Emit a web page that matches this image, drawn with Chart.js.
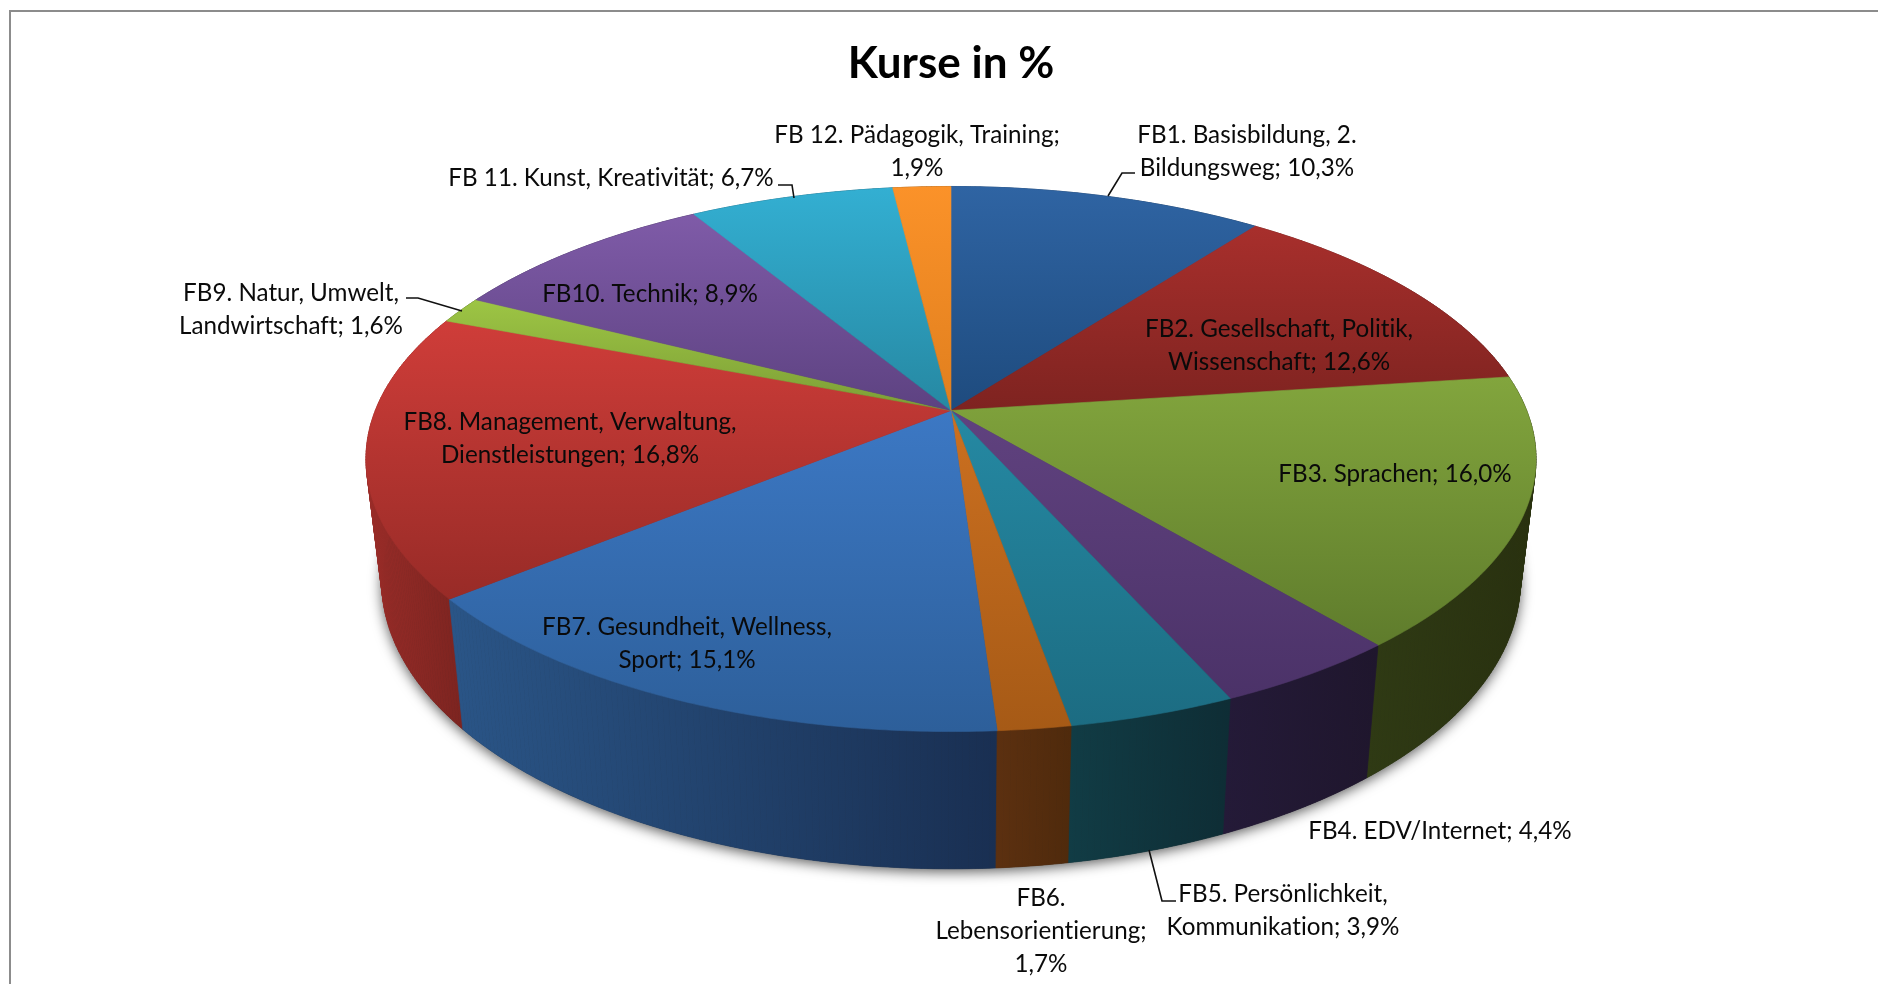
<!DOCTYPE html>
<html lang="de"><head><meta charset="utf-8">
<style>html,body{margin:0;padding:0;background:#fff;overflow:hidden}canvas{display:block}
#frame{position:absolute;left:9px;top:10px;right:-10px;bottom:-10px;border:2px solid #8c8c8c;pointer-events:none}</style>
<script src="https://cdn.jsdelivr.net/npm/chart.js@4"></script>
</head><body><canvas id="c" width="1878" height="984"></canvas><div id="frame"></div>
<script>
// Data
const categories = ["FB1. Basisbildung, 2.|Bildungsweg","FB2. Gesellschaft, Politik,|Wissenschaft","FB3. Sprachen","FB4. EDV/Internet","FB5. Persönlichkeit,|Kommunikation","FB6.|Lebensorientierung","FB7. Gesundheit, Wellness,|Sport","FB8. Management, Verwaltung,|Dienstleistungen","FB9. Natur, Umwelt,|Landwirtschaft","FB10. Technik","FB 11. Kunst, Kreativität","FB 12. Pädagogik, Training"];
const values = [10.3,12.6,16.0,4.4,3.9,1.7,15.1,16.8,1.6,8.9,6.7,1.9];
const valueOnOwnLine = [5,11];
// Colours
const topLight = ["#2f64a3","#a82f2c","#82a53d","#60427f","#2589a3","#cc7020","#3c78c4","#cf3d39","#9dc544","#7f5ba8","#33afd2","#fb9229"];
const topDark  = ["#1e4b7e","#7e2320","#5f7c2c","#4b3268","#1c6c82","#a65a16","#2d5f9a","#982b27","#7c9e36","#5d4281","#2688a2","#e07f1e"];
const wallLight= ["#1c3f68","#6b1e1c","#2f3a14","#241a38","#113c45","#5c3010","#2a5587","#9a2c28","#4c6020","#3c2a58","#176078","#8a5010"];
const wallDark = ["#14304f","#541816","#29310f","#1f162d","#0e2d35","#4f2a0c","#192f52","#7c2420","#3e4f1a","#30224a","#114c60","#744310"];
// Label placement (centre x, first line centre y)
const labelPos = [[1247,135],[1279,329],[1395,474],[1440,831],[1283,894],[1041,898],[687,627],[570,422],[291,293],[650,294],[611,178],[917,135]];
const leaders = {0:[[1135,173],[1122,173],[1108,196]],4:[[1176,901],[1162,901],[1149,850]],8:[[406,298],[418,298],[462,311]],10:[[778,185],[792,185],[794,198]]};
const FONT = '24.2px Lato';
const LINE_H = 33;
// Perspective of the pie disc
const VIEW = {cx:951, k:0.178,
  top:{cy:410.5,a:575.7,b:263.9}, low:{cy:530.5,a:560.2,b:278.1}};
function proj(ang,r){const u=Math.cos(ang),v=Math.sin(ang),w=1-VIEW.k*v;return [VIEW.cx+r.a*u/w,r.cy+r.b*v/w];}
function rimPts(s,e,r){const n=Math.max(4,Math.ceil((e-s)/0.01)),p=[];for(let i=0;i<=n;i++)p.push(proj(s+(e-s)*i/n,r));return p;}
function fmt(v){return v.toFixed(1).replace('.',',')+'%';}
function lines(i){const parts=categories[i].split('|');const val=fmt(values[i]);
  if(valueOnOwnLine.includes(i)){parts[parts.length-1]+=';';parts.push(val);}else parts[parts.length-1]+='; '+val;return parts;}

const pie3d={id:'pie3d',beforeDatasetsDraw(chart){
  const ctx=chart.ctx,arcs=chart.getDatasetMeta(0).data;
  // drop shadow below the body
  ctx.save();ctx.shadowColor='rgba(0,0,0,0.65)';ctx.shadowBlur=13;ctx.shadowOffsetY=3;
  ctx.fillStyle='#222';ctx.beginPath();rimPts(0,Math.PI*2,VIEW.low).forEach((p,i)=>i?ctx.lineTo(p[0],p[1]):ctx.moveTo(p[0],p[1]));ctx.closePath();ctx.fill();ctx.restore();
  // walls, back to front
  const order=arcs.map((a,i)=>i).sort((x,y)=>{const m=i=>Math.sin((arcs[i].startAngle+arcs[i].endAngle)/2);return m(x)-m(y);});
  order.forEach(i=>{const a=arcs[i],t=rimPts(a.startAngle,a.endAngle,VIEW.top),l=rimPts(a.startAngle,a.endAngle,VIEW.low);
    const xs=t.concat(l).map(p=>p[0]);
    const g=ctx.createLinearGradient(Math.min(...xs),0,Math.max(...xs),0);
    g.addColorStop(0,wallLight[i]);g.addColorStop(1,wallDark[i]);
    ctx.fillStyle=g;ctx.strokeStyle=g;ctx.lineWidth=.7;
    for(let j=0;j<t.length-1;j++){ctx.beginPath();ctx.moveTo(t[j][0],t[j][1]);ctx.lineTo(t[j+1][0],t[j+1][1]);ctx.lineTo(l[j+1][0],l[j+1][1]);ctx.lineTo(l[j][0],l[j][1]);ctx.closePath();ctx.fill();ctx.stroke();}
  });
  // top face
  const apex=[VIEW.cx,VIEW.top.cy];
  arcs.forEach((a,i)=>{const t=rimPts(a.startAngle,a.endAngle,VIEW.top);const ys=t.map(p=>p[1]).concat(apex[1]);
    const g=ctx.createLinearGradient(0,Math.min(...ys),0,Math.max(...ys));
    g.addColorStop(0,topLight[i]);g.addColorStop(1,topDark[i]);
    ctx.fillStyle=g;ctx.strokeStyle=g;ctx.lineWidth=.6;ctx.beginPath();ctx.moveTo(apex[0],apex[1]);
    t.forEach(p=>ctx.lineTo(p[0],p[1]));ctx.closePath();ctx.fill();ctx.stroke();});
  // leaders
  ctx.strokeStyle='#111';ctx.lineWidth=1.6;
  Object.values(leaders).forEach(L=>{ctx.beginPath();L.forEach((p,j)=>j?ctx.lineTo(p[0],p[1]):ctx.moveTo(p[0],p[1]));ctx.stroke();});
  // labels
  ctx.fillStyle='#0a0a0a';ctx.font=FONT;ctx.textAlign='center';ctx.textBaseline='middle';ctx.letterSpacing='0.01px';
  values.forEach((v,i)=>lines(i).forEach((s,j)=>ctx.fillText(s,labelPos[i][0],labelPos[i][1]+j*LINE_H)));
  ctx.letterSpacing='0px';
  return false;
}};
new Chart(document.getElementById('c'),{type:'pie',
  data:{labels:categories.map(c=>c.replace('|',' ')),datasets:[{data:values,backgroundColor:topLight,borderWidth:0}]},
  options:{responsive:false,animation:false,events:[],layout:{padding:{left:24}},
    plugins:{legend:{display:false},tooltip:{enabled:false},
      title:{display:true,text:'Kurse in %',color:'#000',font:{family:'Lato',size:44,weight:'bold'},padding:{top:37,bottom:10}}}},
  plugins:[pie3d]});
</script></body></html>
